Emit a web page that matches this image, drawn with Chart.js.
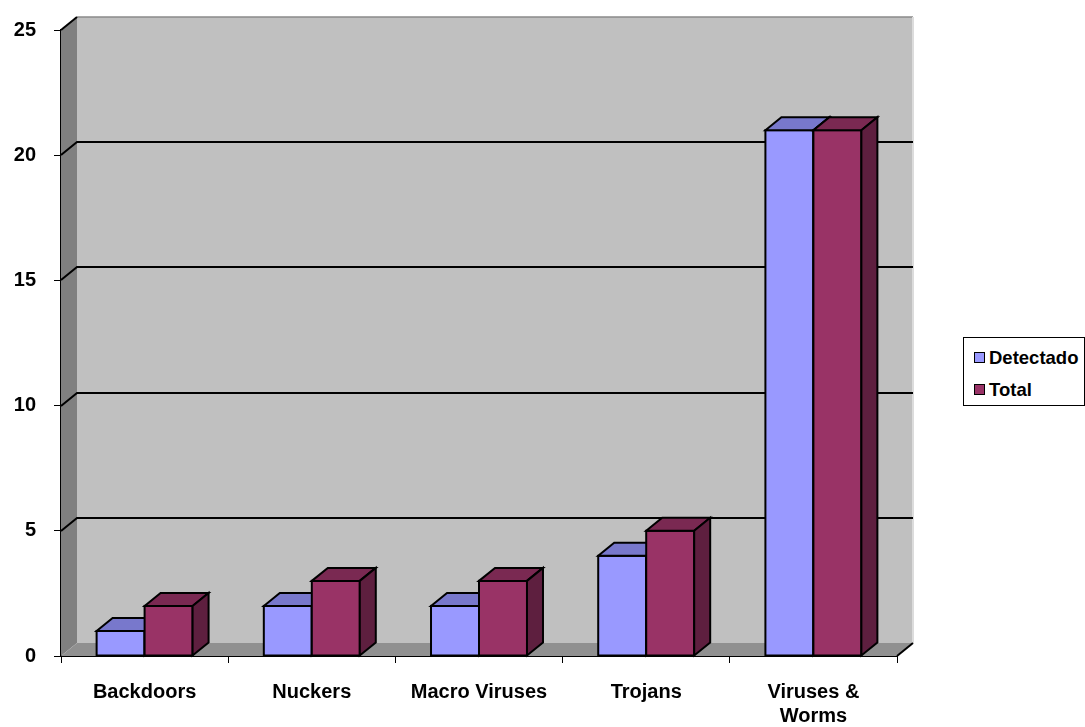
<!DOCTYPE html>
<html>
<head>
<meta charset="utf-8">
<script src="https://cdn.jsdelivr.net/npm/chart.js@4.4.1/dist/chart.umd.min.js"></script>
<style>
  html, body { margin: 0; padding: 0; background: #fff; }
  #wrap { position: relative; width: 1085px; height: 727px; }
  #legend {
    position: absolute; left: 963px; top: 337px; width: 120px; height: 67px;
    border: 1px solid #000; background: #fff;
    font: bold 18.5px "Liberation Sans", Arial, sans-serif; color: #000;
  }
  #legend .item { position: absolute; left: 10px; height: 22px; line-height: 22px; white-space: nowrap; }
  #legend .sw { display: inline-block; width: 9px; height: 9px; border: 1.5px solid #000; margin-right: 4px; vertical-align: 1px; }
</style>
</head>
<body>
<div id="wrap">
  <canvas id="chart" width="1085" height="727"></canvas>
  <div id="legend"></div>
</div>
<script>
// data
const categories = ['Backdoors', 'Nuckers', 'Macro Viruses', 'Trojans', ['Viruses &', 'Worms']];
const detectado = [1, 2, 2, 4, 21];
const total = [2, 3, 3, 5, 21];
const yTicks = [0, 5, 10, 15, 20, 25];

// 3D look (offset of the back wall / bar depth)
const DX = 16, DY = 13;

const faces = [
  { front: '#9999ff', top: '#7878cc', side: '#5c5c99' },
  { front: '#993366', top: '#7a2952', side: '#5e1f3f' },
];

const FONT = { family: '"Liberation Sans", Arial, sans-serif', size: 20, weight: 'bold' };

const box3d = {
  id: 'box3d',
  beforeDatasetsDraw(chart) {
    const { ctx, chartArea: a, scales: { y } } = chart;
    ctx.save();
    // back wall
    ctx.fillStyle = '#c0c0c0';
    ctx.fillRect(a.left + DX, a.top - DY, a.right - a.left, a.bottom - a.top);
    ctx.strokeStyle = '#8a8a8a';
    ctx.lineWidth = 1.5;
    ctx.beginPath();
    ctx.moveTo(a.left + DX, a.top - DY);
    ctx.lineTo(a.right + DX, a.top - DY);
    ctx.stroke();
    ctx.strokeStyle = '#dcdcdc';
    ctx.lineWidth = 2;
    ctx.beginPath();
    ctx.moveTo(a.right + DX, a.top - DY);
    ctx.lineTo(a.right + DX, a.bottom - DY);
    ctx.stroke();
    // left wall
    ctx.fillStyle = '#808080';
    ctx.beginPath();
    ctx.moveTo(a.left, a.top);
    ctx.lineTo(a.left + DX, a.top - DY);
    ctx.lineTo(a.left + DX, a.bottom - DY);
    ctx.lineTo(a.left, a.bottom);
    ctx.closePath();
    ctx.fill();
    // floor
    ctx.fillStyle = '#909090';
    ctx.beginPath();
    ctx.moveTo(a.left, a.bottom);
    ctx.lineTo(a.left + DX, a.bottom - DY);
    ctx.lineTo(a.right + DX, a.bottom - DY);
    ctx.lineTo(a.right, a.bottom);
    ctx.closePath();
    ctx.fill();
    ctx.strokeStyle = '#000';
    ctx.lineWidth = 2;
    ctx.beginPath();
    ctx.moveTo(a.right, a.bottom);
    ctx.lineTo(a.right + DX, a.bottom - DY);
    ctx.stroke();
    // grid lines on the walls
    yTicks.forEach(v => {
      if (v === 0) return;
      const py = Math.round(y.getPixelForValue(v));
      ctx.strokeStyle = '#000';
      ctx.lineWidth = 2;
      ctx.beginPath();
      ctx.moveTo(a.left, py);
      ctx.lineTo(a.left + DX, py - DY);
      if (v < y.max) ctx.lineTo(a.right + DX, py - DY);
      ctx.stroke();
    });
    ctx.restore();
  },
  afterDatasetsDraw(chart) {
    const ctx = chart.ctx;
    ctx.save();
    ctx.strokeStyle = '#000';
    ctx.lineWidth = 2;
    ctx.lineJoin = 'miter';
    const n = chart.data.labels.length;
    for (let i = 0; i < n; i++) {
      chart.data.datasets.forEach((ds, d) => {
        const bar = chart.getDatasetMeta(d).data[i];
        const L = bar.x - bar.width / 2, R = bar.x + bar.width / 2;
        const T = bar.y, B = bar.base;
        const f = faces[d];
        // front
        ctx.fillStyle = f.front;
        ctx.fillRect(L, T, R - L, B - T);
        ctx.strokeRect(L, T, R - L, B - T);
        // top
        ctx.fillStyle = f.top;
        ctx.beginPath();
        ctx.moveTo(L, T); ctx.lineTo(L + DX, T - DY); ctx.lineTo(R + DX, T - DY); ctx.lineTo(R, T);
        ctx.closePath(); ctx.fill(); ctx.stroke();
        // side
        ctx.fillStyle = f.side;
        ctx.beginPath();
        ctx.moveTo(R, T); ctx.lineTo(R + DX, T - DY); ctx.lineTo(R + DX, B - DY); ctx.lineTo(R, B);
        ctx.closePath(); ctx.fill(); ctx.stroke();
      });
    }
    ctx.restore();
  }
};

const chart = new Chart(document.getElementById('chart').getContext('2d'), {
  type: 'bar',
  data: {
    labels: categories,
    datasets: [
      { label: 'Detectado', data: detectado, backgroundColor: faces[0].front, borderColor: '#000', borderWidth: 2 },
      { label: 'Total', data: total, backgroundColor: faces[1].front, borderColor: '#000', borderWidth: 2 },
    ],
  },
  options: {
    responsive: false,
    animation: false,
    layout: { padding: { top: 29, right: 188, left: 0, bottom: 0 } },
    datasets: { bar: { categoryPercentage: 0.574, barPercentage: 1 } },
    plugins: { legend: { display: false }, tooltip: { enabled: false } },
    scales: {
      x: {
        afterFit: (s) => { s.height = 71; },
        grid: { offset: true, drawOnChartArea: false, tickLength: 7, color: '#000', lineWidth: 1 },
        border: { color: '#000', width: 2 },
        ticks: { color: '#000', font: FONT, padding: 17, maxRotation: 0, autoSkip: false },
      },
      y: {
        min: 0,
        max: 25,
        afterFit: (s) => { s.width = 61; },
        grid: { drawOnChartArea: false, tickLength: 7, color: '#000', lineWidth: 1 },
        border: { color: '#000', width: 2 },
        ticks: { stepSize: 5, color: '#000', font: FONT, padding: 18 },
      },
    },
  },
  plugins: [box3d],
});

// legend as html
const legend = document.getElementById('legend');
chart.data.datasets.forEach((ds, i) => {
  const it = document.createElement('div');
  it.className = 'item';
  it.style.top = (9 + i * 32) + 'px';
  it.innerHTML = '<span class="sw" style="background:' + ds.backgroundColor + '"></span>' + ds.label;
  legend.appendChild(it);
});
</script>
</body>
</html>
